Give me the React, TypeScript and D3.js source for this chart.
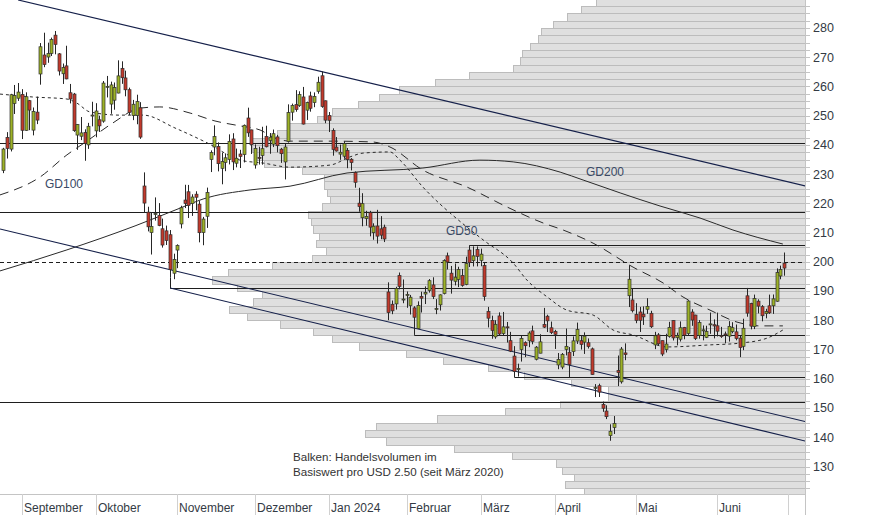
import React from 'react';
import * as d3 from 'd3';

type Candle = [number, number, number, number]; // open, high, low, close
type Pt = [number, number]; // trading day index, price

// Daily candles, one array per month
const AUG_2023: Candle[] = [
  [231.31, 239.0, 230.35, 238.59], [242.58, 244.38, 235.35, 238.82], [238.58, 257.48, 237.77, 257.18],
  [254.2, 260.51, 250.59, 256.9], [255.98, 261.18, 255.05, 258.08],
];
const SEP_2023: Candle[] = [
  [257.26, 259.08, 242.01, 245.01], [245.0, 258.0, 244.86, 256.49], [255.14, 255.39, 245.06, 251.92],
  [245.07, 252.81, 243.27, 251.49], [251.22, 256.52, 247.12, 248.5], [264.27, 274.85, 260.61, 273.58],
  [270.76, 278.39, 266.6, 267.48], [270.07, 274.98, 268.1, 271.3], [271.32, 276.71, 270.42, 276.04],
  [277.55, 278.98, 271.0, 274.39], [271.16, 271.44, 263.76, 265.28], [264.35, 267.85, 260.86, 266.5],
  [267.04, 273.93, 262.46, 262.59], [257.85, 260.86, 254.21, 255.7], [257.4, 257.79, 244.48, 244.88],
  [243.38, 247.1, 238.31, 246.99], [242.98, 249.55, 241.66, 244.12], [244.26, 245.33, 234.58, 240.5],
  [240.02, 247.55, 238.65, 246.38], [250.0, 254.77, 246.35, 250.22],
];
const OCT_2023: Candle[] = [
  [244.81, 254.28, 242.62, 251.6], [248.61, 250.02, 244.45, 246.53], [248.14, 261.86, 247.6, 261.16],
  [260.0, 263.6, 256.25, 260.05], [253.98, 261.65, 250.65, 260.53], [255.31, 261.36, 252.05, 259.67],
  [257.75, 268.94, 257.65, 263.62], [266.2, 268.6, 260.9, 262.99], [262.92, 265.41, 256.63, 258.87],
  [258.9, 259.6, 250.22, 251.12], [250.05, 255.4, 248.48, 253.92], [250.1, 257.18, 247.08, 254.85],
  [252.7, 254.63, 242.08, 242.68], [225.95, 230.61, 216.78, 220.11], [217.01, 218.86, 210.42, 211.99],
  [210.0, 216.98, 202.51, 212.08], [216.5, 222.05, 214.11, 216.52], [215.88, 220.1, 212.2, 212.42],
  [211.32, 214.8, 204.88, 205.76], [210.6, 212.41, 205.77, 207.3], [209.28, 210.88, 194.67, 197.36],
  [196.12, 202.8, 194.07, 200.84],
];
const NOV_2023: Candle[] = [
  [204.04, 205.99, 197.85, 205.66], [212.97, 219.2, 211.45, 218.51], [221.15, 226.37, 218.4, 219.96],
  [223.98, 226.32, 215.0, 219.27], [219.98, 223.12, 215.72, 222.18], [223.15, 224.15, 217.64, 222.11],
  [219.75, 220.8, 206.68, 209.98], [210.03, 215.38, 205.69, 214.65], [215.6, 225.4, 211.61, 223.71],
  [235.03, 238.14, 230.72, 237.41], [239.29, 246.7, 236.45, 242.84], [239.49, 240.88, 230.96, 233.59],
  [232.0, 237.39, 226.54, 234.3], [234.04, 237.1, 231.02, 235.6], [235.04, 243.62, 233.34, 241.2],
  [242.04, 244.01, 231.4, 234.21], [233.75, 238.75, 232.33, 235.45], [236.89, 238.33, 232.1, 236.08],
  [236.68, 247.0, 234.01, 246.72], [249.21, 252.75, 242.76, 244.14], [245.14, 245.22, 236.91, 240.08],
];
const DEC_2023: Candle[] = [
  [233.14, 240.19, 231.9, 238.83], [235.75, 239.37, 233.29, 235.58], [236.38, 246.21, 233.24, 238.72],
  [242.92, 246.57, 239.17, 239.37], [241.55, 244.08, 236.98, 242.64], [240.27, 245.27, 239.27, 243.84],
  [242.74, 243.44, 237.45, 239.74], [238.55, 238.99, 233.87, 237.01], [234.19, 240.3, 228.2, 239.29],
  [241.22, 253.88, 240.79, 251.05], [251.21, 254.13, 248.3, 253.5], [253.78, 258.74, 251.36, 252.08],
  [253.48, 258.34, 253.01, 257.22], [256.41, 259.84, 247.0, 247.14], [251.9, 254.8, 248.55, 254.5],
  [256.76, 258.22, 251.37, 252.54], [254.49, 257.97, 252.91, 256.61], [258.35, 263.34, 257.52, 261.44],
  [263.66, 265.13, 252.71, 253.18], [255.1, 255.19, 247.43, 248.48],
];
const JAN_2024: Candle[] = [
  [250.08, 251.25, 244.41, 248.42], [244.98, 245.68, 236.32, 238.45], [239.25, 242.7, 237.73, 237.93],
  [236.86, 240.12, 234.9, 237.49], [236.14, 241.25, 235.3, 240.45], [238.11, 238.96, 232.04, 234.96],
  [235.1, 235.5, 231.29, 233.94], [230.57, 230.93, 225.37, 227.22], [220.08, 225.34, 217.15, 218.89],
  [215.1, 223.49, 212.18, 219.91], [214.86, 217.47, 212.37, 215.55], [216.88, 217.45, 208.74, 211.88],
  [209.99, 213.19, 207.56, 212.19], [212.26, 217.8, 206.27, 208.8], [211.3, 215.65, 207.75, 209.14],
  [211.88, 212.73, 206.77, 207.83], [189.7, 193.0, 180.06, 182.63], [185.5, 186.78, 182.1, 183.25],
  [185.63, 191.48, 183.67, 190.93], [195.33, 196.36, 190.61, 191.59], [187.0, 193.97, 185.85, 187.29],
];
const FEB_2024: Candle[] = [
  [188.5, 189.88, 184.28, 188.86], [185.04, 188.69, 182.0, 187.91], [184.26, 184.81, 175.01, 181.06],
  [177.21, 186.49, 177.11, 185.1], [188.18, 189.79, 182.68, 187.58], [189.0, 191.62, 185.58, 189.56],
  [190.18, 194.12, 189.48, 193.57], [192.11, 194.73, 187.28, 188.13], [183.99, 187.26, 182.11, 184.02],
  [185.3, 188.89, 183.35, 188.71], [189.16, 200.88, 188.86, 200.45], [202.06, 203.17, 197.4, 199.95],
  [196.13, 198.6, 189.13, 193.76], [193.36, 199.44, 191.95, 194.77], [194.0, 198.32, 191.36, 197.41],
  [195.31, 197.57, 191.5, 191.97], [192.29, 201.78, 192.0, 199.4], [204.04, 205.6, 198.26, 199.73],
  [200.42, 205.3, 198.44, 202.04], [204.18, 205.28, 198.45, 201.88],
];
const MAR_2024: Candle[] = [
  [200.52, 204.52, 198.5, 202.64], [198.73, 199.75, 186.72, 188.14], [183.05, 184.59, 177.57, 180.74],
  [179.99, 181.58, 173.7, 176.54], [174.35, 180.04, 173.7, 178.65], [181.5, 182.73, 174.7, 175.34],
  [175.45, 182.87, 174.8, 177.77], [177.77, 179.43, 172.41, 177.54], [173.05, 176.05, 169.15, 169.48],
  [167.77, 171.17, 160.51, 162.5], [163.16, 165.18, 160.76, 163.57], [170.02, 174.72, 165.9, 173.8],
  [172.36, 172.82, 167.42, 171.32], [173.0, 176.25, 170.82, 175.66], [176.39, 178.18, 171.8, 172.82],
  [166.69, 171.2, 166.3, 170.83], [168.76, 175.24, 168.73, 172.63], [178.58, 184.25, 177.38, 177.67],
  [181.41, 181.91, 176.0, 179.83], [177.45, 179.57, 175.3, 175.79],
];
const APR_2024: Candle[] = [
  [176.17, 176.75, 170.21, 175.22], [164.75, 168.82, 163.28, 166.63], [164.02, 168.82, 163.28, 168.38],
  [170.07, 177.19, 168.01, 171.11], [169.08, 170.86, 160.51, 164.9], [169.34, 174.5, 167.79, 172.98],
  [172.91, 179.22, 171.92, 176.88], [173.04, 174.93, 170.01, 171.76], [172.55, 175.88, 168.51, 174.6],
  [172.34, 173.81, 170.36, 171.05], [170.24, 170.69, 161.38, 161.48], [156.74, 158.19, 153.75, 157.11],
  [157.64, 158.33, 153.78, 155.45], [151.25, 152.2, 148.7, 149.93], [148.97, 150.94, 146.22, 147.05],
  [140.56, 144.44, 138.8, 142.05], [143.33, 147.26, 141.11, 144.68], [162.84, 167.97, 157.51, 162.13],
  [158.96, 170.88, 158.36, 170.18], [168.85, 172.12, 166.37, 168.29], [188.42, 198.87, 184.54, 194.05],
  [186.98, 190.95, 182.69, 183.28],
];
const MAY_2024: Candle[] = [
  [182.0, 185.86, 179.01, 179.99], [182.86, 184.6, 176.02, 180.01], [182.1, 184.78, 178.42, 181.19],
  [183.8, 187.56, 182.2, 184.76], [182.4, 183.26, 177.4, 177.81], [171.59, 176.06, 170.15, 174.72],
  [175.01, 175.62, 171.37, 171.97], [173.05, 173.06, 167.75, 168.47], [170.0, 175.4, 169.0, 171.89],
  [174.5, 179.49, 174.07, 177.55], [179.9, 180.0, 173.11, 173.99], [174.1, 175.79, 171.43, 174.84],
  [173.55, 179.63, 172.75, 177.46], [177.56, 177.75, 173.52, 174.95], [175.51, 186.88, 174.71, 186.6],
  [182.85, 183.8, 178.12, 180.11], [181.8, 181.9, 173.26, 173.74], [174.84, 180.08, 173.73, 179.24],
  [176.4, 178.25, 173.16, 176.75], [174.19, 178.15, 173.93, 176.19], [178.58, 182.67, 175.38, 178.79],
  [178.5, 180.32, 173.82, 178.08],
];
const JUN_2024: Candle[] = [
  [178.13, 182.64, 174.49, 176.29], [174.78, 177.76, 174.0, 174.77], [175.35, 176.15, 172.13, 175.0],
  [174.6, 179.73, 172.73, 177.94], [176.13, 179.35, 175.58, 177.48], [176.06, 178.57, 173.17, 173.79],
  [173.92, 174.75, 167.41, 170.66], [171.12, 180.55, 169.8, 177.29], [188.39, 191.08, 181.23, 182.47],
  [185.8, 186.0, 176.92, 178.01], [177.92, 188.81, 177.0, 187.44], [186.56, 187.2, 182.37, 184.86],
  [184.68, 185.21, 179.66, 181.57], [182.3, 183.95, 180.69, 183.01], [184.97, 188.8, 182.2, 182.58],
  [184.97, 188.84, 182.2, 187.35], [186.54, 197.76, 186.36, 196.37], [195.17, 198.72, 194.05, 197.42],
  [199.55, 203.2, 195.26, 197.88],
];

const MONTH_CANDLES = [AUG_2023, SEP_2023, OCT_2023, NOV_2023, DEC_2023, JAN_2024, FEB_2024, MAR_2024, APR_2024, MAY_2024, JUN_2024];
// null = no tick for that month (August is only partly shown)
const MONTH_LABELS: (string | null)[] = [null, 'September', 'Oktober', 'November', 'Dezember', 'Jan 2024', 'Februar', 'März', 'April', 'Mai', 'Juni', ''];

// Volume profile: relative volume per USD 2.50 bin, starting at 120
const VOLUME_FIRST_BIN = 120;
const VOLUME_BIN = 2.5;
const VOLUME = [
  221, 240, 231, 243, 249, 293, 351, 419, 440, 429, 368, 300, 245, 197, 197, 234,
  281, 317, 362, 399, 446, 473, 492, 525, 558, 576, 552, 543, 568, 593, 577, 533,
  493, 479, 489, 486, 492, 494, 497, 483, 475, 478, 481, 481, 503, 541, 549, 553,
  555, 528, 517, 488, 473, 447, 426, 406, 370, 336, 292, 285, 283, 275, 267, 264,
  252, 238, 224, 209,
];

// Moving averages as [trading day, price]
const GD50: Pt[] = [
  [-0.9, 257.4], [8, 256.4], [17.2, 255.7], [19.9, 254.3], [23.4, 251.3], [31.5, 250.2], [37.8, 250.2],
  [46.4, 245.8], [55.1, 240.7], [64, 234.8], [70.2, 233.8], [77.5, 232.4], [88.3, 233.1], [93.7, 235.9],
  [97.2, 237.2], [104.5, 237.6], [107.2, 234.8], [113.4, 225.6], [125.3, 211.9], [129.7, 207.5],
  [137.8, 199.6], [141.5, 193.8], [147, 188.0], [152.3, 183.5], [159.4, 181.8], [164.8, 176.7],
  [170.2, 175.0], [179.4, 170.9], [191, 171.6], [199.1, 172.2], [206.4, 173.9], [210.7, 176.7],
];
const GD100: Pt[] = [
  [-0.9, 222.9], [9.9, 229.0], [17.2, 236.6], [22.6, 241.3], [29.6, 247.5], [37, 252.6], [42.3, 253.0],
  [50.5, 250.9], [57.2, 248.2], [64, 246.5], [69.4, 245.1], [73.4, 242.4], [77.5, 241.3], [88.3, 241.3],
  [99.9, 241.0], [104.5, 239.3], [113.4, 231.4], [125.3, 225.6], [136.1, 218.8], [145.9, 213.3],
  [151.3, 210.9], [159.4, 206.4], [170.2, 198.2], [178.3, 192.8], [183.7, 188.0], [191, 183.5],
  [198.3, 179.4], [204.5, 178.1], [210.7, 178.1],
];
const GD200: Pt[] = [
  [-0.9, 196.9], [17.2, 204.1], [35.6, 212.3], [47.8, 218.4], [54, 221.5], [66.7, 224.6], [77.5, 225.9],
  [92.9, 230.4], [113.4, 232.1], [128.8, 234.8], [137.8, 234.2], [150.5, 230.7], [156.7, 228.0],
  [166.7, 223.6], [177.5, 219.1], [188.3, 215.0], [197.2, 210.9], [210.7, 206.1],
];

// Trend channels
const TREND_LINES: Pt[][] = [
  [[4.0, 289.6], [216.7, 226.0]],
  [[-0.9, 211.24], [216.7, 145.38]],
  [[45.1, 191.05], [216.7, 138.7]],
];

// Horizontal levels
const FULL_LEVELS = [240.5, 217.05, 152.05];
const DASHED_LEVELS = [200];
const LEVELS_FROM: { price: number; day: number }[] = [
  { price: 205.6, day: 126 },
  { price: 191.05, day: 45 },
  { price: 175.01, day: 111 },
  { price: 160.51, day: 138 },
];

const Y_LABELS = [130, 140, 150, 160, 170, 180, 190, 200, 210, 220, 230, 240, 250, 260, 270, 280];

const W = 874;
const H = 515;
const PLOT_R = 805;
const PLOT_B = 494;
const UP = '#9db227';
const DOWN = '#c23a2c';
const FONT = '"Liberation Sans", Arial, sans-serif';

const App: React.FC = () => {
  const candles = MONTH_CANDLES.flat();
  const monthStarts: number[] = [];
  let acc = 0;
  MONTH_CANDLES.forEach(m => { monthStarts.push(acc); acc += m.length; });
  monthStarts.push(acc);

  const x = d3.scaleLinear().domain([0, 211]).range([3.3, 784]);
  const y = d3.scaleLinear().domain([130, 280]).range([466.5, 28]);
  const vol = d3.scaleLinear().domain([0, 1000]).range([PLOT_R, PLOT_R - 1000]);

  const maLine = d3.line<Pt>().x(d => x(d[0])).y(d => y(d[1])).curve(d3.curveMonotoneX);

  const minorTicks = d3.range(120, 290, 2.5);
  const priceBottom = y.invert(PLOT_B);
  const crisp = (v: number) => Math.round(v) + 0.5;

  return (
    <svg width={W} height={H} style={{ position: 'fixed', left: 0, top: 0, display: 'block', background: '#fff' }} fontFamily={FONT}>
      <defs>
        <clipPath id="plot">
          <rect x={0} y={0} width={PLOT_R} height={PLOT_B} />
        </clipPath>
      </defs>

      <g clipPath="url(#plot)">
        {/* volume profile */}
        {VOLUME.map((v, i) => {
          const lo = VOLUME_FIRST_BIN + i * VOLUME_BIN;
          const y0 = crisp(y(lo + VOLUME_BIN));
          const y1 = crisp(y(lo));
          const left = crisp(vol(v));
          return (
            <rect key={i} x={left} y={y0} width={PLOT_R - left + 2} height={y1 - y0}
              fill="#dfdfdf" stroke="#bcbcbc" strokeWidth={1} />
          );
        })}

        {/* horizontal levels */}
        {FULL_LEVELS.map(p => (
          <line key={p} x1={0} x2={PLOT_R} y1={crisp(y(p))} y2={crisp(y(p))} stroke="#1e1e1e" strokeWidth={1} />
        ))}
        {DASHED_LEVELS.map(p => (
          <line key={p} x1={0} x2={PLOT_R} y1={crisp(y(p))} y2={crisp(y(p))} stroke="#1e1e1e" strokeWidth={1} strokeDasharray="4,3" />
        ))}
        {LEVELS_FROM.map(l => {
          const c = candles[l.day];
          const xx = crisp(x(l.day));
          const yy = crisp(y(l.price));
          return (
            <g key={l.price}>
              <line x1={xx} x2={xx} y1={y(c[2])} y2={yy} stroke="#1e1e1e" strokeWidth={1} />
              <line x1={xx} x2={PLOT_R} y1={yy} y2={yy} stroke="#1e1e1e" strokeWidth={1} />
            </g>
          );
        })}

        {/* moving averages */}
        <path d={maLine(GD200) || ''} fill="none" stroke="#2a2a2a" strokeWidth={1} />
        <path d={maLine(GD100) || ''} fill="none" stroke="#2a2a2a" strokeWidth={1} strokeDasharray="9,6" />
        <path d={maLine(GD50) || ''} fill="none" stroke="#2a2a2a" strokeWidth={1} strokeDasharray="3,3" />

        {/* trend lines */}
        {TREND_LINES.map((t, i) => (
          <line key={i} x1={x(t[0][0])} y1={y(t[0][1])} x2={x(t[1][0])} y2={y(t[1][1])} stroke="#15204a" strokeWidth={1.1} />
        ))}

        {/* candles */}
        {candles.map((c, i) => {
          const [o, h, l, cl] = c;
          const cx = crisp(x(i));
          const top = y(Math.max(o, cl));
          const bot = y(Math.min(o, cl));
          return (
            <g key={i}>
              <line x1={cx} x2={cx} y1={y(h)} y2={y(l)} stroke="#262626" strokeWidth={1} />
              <rect x={cx - 1.5} y={top} width={3} height={Math.max(1, bot - top)}
                fill={cl >= o ? UP : DOWN} stroke="#2e2e2e" strokeWidth={0.7} />
            </g>
          );
        })}

        {/* MA labels */}
        <text x={45} y={184} dy="0.35em" fontSize={12} fill="#3a4a66">GD100</text>
        <text x={446} y={230.5} dy="0.35em" fontSize={12} fill="#3a4a66">GD50</text>
        <text x={586} y={172} dy="0.35em" fontSize={12} fill="#3a4a66">GD200</text>

        <text x={293} y={457} dy="0.35em" fontSize={11.6} fill="#333">Balken: Handelsvolumen im</text>
        <text x={293} y={472} dy="0.35em" fontSize={11.6} fill="#333">Basiswert pro USD 2.50 (seit März 2020)</text>
      </g>

      {/* right axis */}
      <line x1={PLOT_R + 0.5} x2={PLOT_R + 0.5} y1={0} y2={H} stroke="#c4c4c4" strokeWidth={1} />
      {minorTicks.filter(p => p > priceBottom).map(p => (
        <line key={p} x1={PLOT_R} x2={PLOT_R + 5} y1={crisp(y(p))} y2={crisp(y(p))} stroke="#c4c4c4" strokeWidth={1} />
      ))}
      {Y_LABELS.map(p => (
        <text key={p} x={813} y={y(p)} dy="0.35em" fontSize={12.5} fill="#333a44">{p}</text>
      ))}

      {/* bottom axis */}
      <line x1={0} x2={PLOT_R} y1={PLOT_B + 0.5} y2={PLOT_B + 0.5} stroke="#c4c4c4" strokeWidth={1} />
      {monthStarts.map((s, i) => {
        if (MONTH_LABELS[i] === null) return null;
        const xx = crisp(x(s));
        return (
          <g key={i}>
            <line x1={xx} x2={xx} y1={PLOT_B} y2={H} stroke="#d0d0d0" strokeWidth={1} />
            {MONTH_LABELS[i] && (
              <text x={xx + 1.5} y={508} dy="0.35em" fontSize={12} fill="#333a44">{MONTH_LABELS[i]}</text>
            )}
          </g>
        );
      })}
    </svg>
  );
};

export default App;
